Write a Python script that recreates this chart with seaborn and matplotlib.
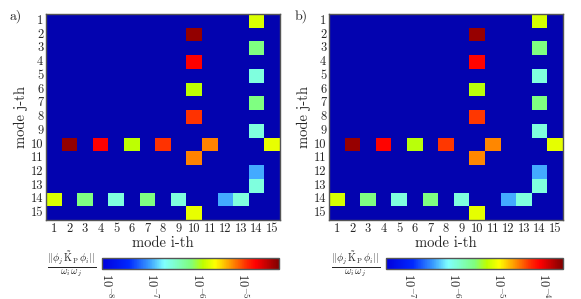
import numpy as np
import pandas as pd
import matplotlib
matplotlib.use("Agg")
import matplotlib.pyplot as plt
from matplotlib.colors import LogNorm, LinearSegmentedColormap
import seaborn as sns

sns.set_style("white")
plt.rcParams["font.family"] = ["cmr10", "DejaVu Serif"]
plt.rcParams["mathtext.fontset"] = "cm"
plt.rcParams["axes.formatter.use_mathtext"] = True

# ---- data (mode j = row, mode i = column; symmetric coupling) ----
modes = list(range(1, 16))
pair_j = [2, 4, 6, 8, 10, 10, 1, 3, 5, 7, 9, 12, 13]
pair_i = [10, 10, 10, 10, 11, 15, 14, 14, 14, 14, 14, 14, 14]
log_a = [-4.28, -4.71, -5.88, -4.94, -5.20, -5.70, -5.76,
         -6.15, -6.58, -6.15, -6.58, -7.01, -6.58]
log_b = [-3.68, -4.11, -5.28, -4.34, -4.60, -5.10, -5.16,
         -5.55, -5.98, -5.55, -5.98, -6.41, -5.98]
range_a = (10 ** -8.1, 10 ** -4.2)
range_b = (10 ** -7.5, 10 ** -3.58)
ticks_a = [1e-8, 1e-7, 1e-6, 1e-5]
ticks_b = [1e-7, 1e-6, 1e-5, 1e-4]

bg = "#0303AF"
anchors = [
    (0.00, (0 / 255, 0 / 255, 220 / 255)),
    (0.15, (0 / 255, 40 / 255, 255 / 255)),
    (0.27, (60 / 255, 160 / 255, 255 / 255)),
    (0.35, (127 / 255, 255 / 255, 255 / 255)),
    (0.50, (127 / 255, 255 / 255, 127 / 255)),
    (0.57, (190 / 255, 255 / 255, 0 / 255)),
    (0.64, (255 / 255, 255 / 255, 0 / 255)),
    (0.72, (255 / 255, 160 / 255, 0 / 255)),
    (0.82, (255 / 255, 40 / 255, 0 / 255)),
    (0.87, (255 / 255, 0 / 255, 0 / 255)),
    (1.00, (128 / 255, 0 / 255, 0 / 255)),
]
cmap = LinearSegmentedColormap.from_list("jetlike", anchors, N=256)
cmap.set_bad(bg)


def build(vals):
    m = np.full((15, 15), np.nan)
    for j, i, v in zip(pair_j, pair_i, vals):
        m[j - 1, i - 1] = 10 ** v
        m[i - 1, j - 1] = 10 ** v
    return pd.DataFrame(m, index=modes, columns=modes)


fig = plt.figure(figsize=(5.81, 2.99), dpi=100)
W, H = 581.0, 299.0

panels = [
    ("a)", log_a, range_a, ticks_a, 46, 102, 10),
    ("b)", log_b, range_b, ticks_b, 329, 386, 295),
]
label = r"$\frac{||\phi_j\,\tilde{\mathrm{K}}_{\mathrm{P}}\,\phi_i||}{\omega_i\,\omega_j}$"

for tag, vals, rng, ticks, axl, cbl, tagx in panels:
    ax = fig.add_axes([axl / W, (H - 220) / H, 234 / W, 206 / H])
    cax = fig.add_axes([cbl / W, (H - 269) / H, 177 / W, 11 / H])
    df = build(vals)
    ax.set_facecolor(bg)
    sns.heatmap(df, ax=ax, cmap=cmap, norm=LogNorm(vmin=rng[0], vmax=rng[1]),
                cbar_ax=cax, cbar_kws={"orientation": "horizontal"},
                xticklabels=modes, yticklabels=modes, linewidths=0)
    for s in ax.spines.values():
        s.set_visible(True)
        s.set_color("#555555")
        s.set_linewidth(1.0)
    ax.tick_params(axis="both", which="both", direction="in", length=2.5,
                   width=0.6, color="#555555", labelsize=9, pad=2,
                   top=True, right=True, bottom=True, left=True)
    plt.setp(ax.get_yticklabels(), rotation=0)
    plt.setp(ax.get_xticklabels(), rotation=0)
    ax.set_xlabel("mode i-th", fontsize=10.5, labelpad=1)
    ax.set_ylabel("mode j-th", fontsize=10.5, labelpad=2)
    fig.text(tagx / W, (H - 16) / H, tag, fontsize=10, ha="left", va="center")

    cb = ax.collections[0].colorbar
    cb.outline.set_edgecolor("#555555")
    cb.outline.set_linewidth(1.0)
    cb.set_ticks(ticks)
    cax.tick_params(axis="x", which="both", direction="in", color="#555555",
                    labelsize=9, pad=3)
    cax.tick_params(axis="x", which="major", length=0)
    cax.tick_params(axis="x", which="minor", length=2, width=0.5)
    for t in cax.get_xticklabels():
        t.set_rotation(-90)
        t.set_va("top")
        t.set_ha("center")
    fig.text((cbl - 30) / W, (H - 264) / H, label, fontsize=10.5,
             ha="center", va="center")

fig.savefig("out.png", dpi=100)
